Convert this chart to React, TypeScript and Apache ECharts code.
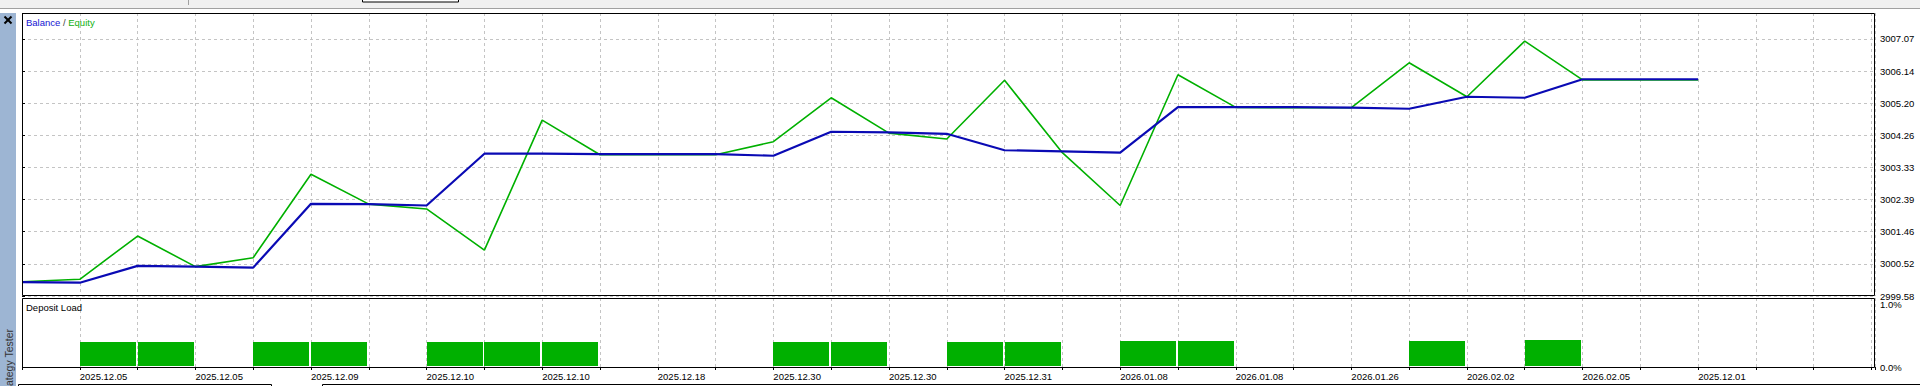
import React, { useEffect, useRef } from 'react';
import * as echarts from 'echarts';

// ---------- data ----------
const X_LABELS = [
  '2025.12.05', '2025.12.05', '2025.12.09', '2025.12.10', '2025.12.10',
  '2025.12.18', '2025.12.30', '2025.12.30', '2025.12.31', '2026.01.08',
  '2026.01.08', '2026.01.26', '2026.02.02', '2026.02.05', '2025.12.01',
];
const Y_TICKS = ['2999.58', '3000.52', '3001.46', '3002.39', '3003.33', '3004.26', '3005.20', '3006.14', '3007.07'];
const Y_BASE = 2999.583;
const Y_STEP = 0.93625;

const BALANCE = [
  2999.99, 2999.97, 3000.46, 3000.44, 3000.41, 3002.27, 3002.26, 3002.22, 3003.73, 3003.73,
  3003.72, 3003.72, 3003.72, 3003.67, 3004.37, 3004.35, 3004.31, 3003.83, 3003.80, 3003.76,
  3005.09, 3005.09, 3005.09, 3005.07, 3005.04, 3005.39, 3005.36, 3005.90, 3005.90, 3005.90,
];
const EQUITY = [
  3000.00, 3000.07, 3001.33, 3000.44, 3000.70, 3003.13, 3002.26, 3002.12, 3000.92, 3004.71,
  3003.70, 3003.70, 3003.70, 3004.08, 3005.36, 3004.33, 3004.16, 3005.87, 3003.76, 3002.22,
  3006.03, 3005.08, 3005.07, 3005.07, 3006.38, 3005.39, 3007.01, 3005.88, 3005.88, 3005.88,
];

const LOAD_INDEX = [1, 2, 4, 5, 7, 8, 9, 13, 14, 16, 17, 19, 20, 24, 26];
const LOAD_VALUES = [0.39, 0.39, 0.39, 0.39, 0.39, 0.39, 0.39, 0.39, 0.39, 0.39, 0.39, 0.405, 0.405, 0.42, 0.435];
const LOAD_TICKS = ['0.0%', '1.0%'];

// ---------- styling ----------
const FONT = 'Liberation Sans';
const FS = 9.5;
const BLUE = '#0a0ab4';
const GREEN = '#00b000';
const GRID_C = '#c4c4c4';
const XMAX = 32.06;
const YMAX = 8.809;
const LOAD_MAX = 69 / 63;

const norm = (v: number) => (v - Y_BASE) / Y_STEP;

export default function App() {
  const ref = useRef<HTMLDivElement>(null);

  useEffect(() => {
    if (!ref.current) return;
    const chart = echarts.init(ref.current, undefined, { renderer: 'svg' });

    const split = { show: true, lineStyle: { color: GRID_C, type: [3, 3] as any, width: 1 } };

    const option: any = {
      animation: false,
      backgroundColor: '#ffffff',
      grid: [
        { left: 22, top: 13, width: 1853, height: 283, show: false },
        { left: 22, top: 298, width: 1853, height: 69, show: false },
      ],
      xAxis: [
        {
          gridIndex: 0, type: 'value', min: 0, max: XMAX, interval: 1,
          axisLine: { show: false }, axisTick: { show: false }, axisLabel: { show: false },
          splitLine: split,
        },
        {
          gridIndex: 1, type: 'value', min: 0, max: XMAX, interval: 1, position: 'bottom',
          axisLine: { show: false },
          axisTick: { show: true, length: 3, lineStyle: { color: '#000', width: 1 } },
          axisLabel: {
            show: true, align: 'left', margin: 4, color: '#000', fontFamily: FONT, fontSize: FS,
            formatter: (v: number) => {
              const k = Math.round(v);
              if (Math.abs(v - k) > 1e-6 || k % 2 !== 1) return '';
              const i = (k - 1) / 2;
              return i < X_LABELS.length ? X_LABELS[i] : '';
            },
          },
          splitLine: split,
        },
      ],
      yAxis: [
        {
          gridIndex: 0, type: 'value', position: 'right', min: 0, max: YMAX, interval: 1,
          axisLine: { show: false },
          axisTick: { show: true, length: 3, lineStyle: { color: '#000', width: 1 } },
          axisLabel: {
            margin: 5, color: '#000', fontFamily: FONT, fontSize: FS,
            formatter: (v: number) => {
              const i = Math.round(v);
              return Math.abs(v - i) < 1e-6 && i >= 0 && i < Y_TICKS.length ? Y_TICKS[i] : '';
            },
          },
          splitLine: split,
        },
        {
          gridIndex: 1, type: 'value', position: 'right', min: 0, max: LOAD_MAX, interval: 1,
          axisLine: { show: false }, axisTick: { show: false }, splitLine: { show: false },
          axisLabel: {
            margin: 5, color: '#000', fontFamily: FONT, fontSize: FS,
            formatter: (v: number) => {
              const i = Math.round(v);
              return Math.abs(v - i) < 1e-6 && i >= 0 && i < LOAD_TICKS.length ? LOAD_TICKS[i] : '';
            },
          },
        },
      ],
      series: [
        {
          type: 'line', name: 'Equity', xAxisIndex: 0, yAxisIndex: 0, showSymbol: false, z: 3,
          lineStyle: { color: GREEN, width: 1.6 },
          data: EQUITY.map((v, k) => [k, norm(v)]),
        },
        {
          type: 'line', name: 'Balance', xAxisIndex: 0, yAxisIndex: 0, showSymbol: false, z: 4,
          lineStyle: { color: BLUE, width: 2.2 },
          data: BALANCE.map((v, k) => [k, norm(v)]),
        },
        {
          type: 'custom', name: 'Deposit Load', xAxisIndex: 1, yAxisIndex: 1,
          data: LOAD_INDEX.map((k, i) => [k, LOAD_VALUES[i]]),
          renderItem: (params: any, api: any) => {
            const k = api.value(0);
            const v = api.value(1);
            const p0 = api.coord([k, v]);
            const p1 = api.coord([k + 1, 0]);
            return {
              type: 'rect',
              shape: { x: Math.round(p0[0]), y: Math.round(p0[1]), width: Math.round(p1[0] - p0[0]) - 2, height: Math.round(p1[1] - p0[1]) - 1 },
              style: { fill: GREEN },
            };
          },
        },
      ],
      graphic: [
        { type: 'rect', shape: { x: 0, y: 0, width: 1920, height: 8 }, style: { fill: '#f0f0f0' }, z: 50 },
        { type: 'line', shape: { x1: 0, y1: 8.5, x2: 1920, y2: 8.5 }, style: { stroke: '#a0a0a0', lineWidth: 1 }, z: 51 },
        { type: 'line', shape: { x1: 188.5, y1: 0, x2: 188.5, y2: 5 }, style: { stroke: '#a0a0a0', lineWidth: 1 }, z: 51 },
        { type: 'rect', shape: { x: 362.5, y: -5, width: 96, height: 7 }, style: { fill: '#ffffff', stroke: '#000', lineWidth: 1 }, z: 51 },
        { type: 'rect', shape: { x: 0, y: 13, width: 16, height: 373 }, style: { fill: '#9db5d3' }, z: 50 },
        { type: 'line', shape: { x1: 4.5, y1: 16.5, x2: 11.5, y2: 23.5 }, style: { stroke: '#000', lineWidth: 2 }, z: 52 },
        { type: 'line', shape: { x1: 11.5, y1: 16.5, x2: 4.5, y2: 23.5 }, style: { stroke: '#000', lineWidth: 2 }, z: 52 },
        {
          type: 'text', x: 9, y: 329, rotation: Math.PI / 2, z: 52,
          style: { text: 'Strategy Tester', fill: '#333333', font: `10.5px "${FONT}"`, align: 'right', verticalAlign: 'middle' },
        },
        { type: 'rect', shape: { x: 18.5, y: 384.5, width: 253, height: 10 }, style: { fill: '#ffffff', stroke: '#000', lineWidth: 1 }, z: 51 },
        { type: 'rect', shape: { x: 322.5, y: 384.5, width: 1700, height: 10 }, style: { fill: '#ffffff', stroke: '#000', lineWidth: 1 }, z: 51 },
        // panel frames
        { type: 'rect', shape: { x: 22.5, y: 13.5, width: 1852, height: 282 }, style: { fill: 'none', stroke: '#000', lineWidth: 1 }, z: 60 },
        { type: 'rect', shape: { x: 22.5, y: 298.5, width: 1852, height: 69 }, style: { fill: 'none', stroke: '#000', lineWidth: 1 }, z: 60 },
        {
          type: 'text', x: 26, y: 22, z: 61,
          style: {
            text: '{b|Balance} {s|/} {e|Equity}',
            font: `${FS}px "${FONT}"`, verticalAlign: 'middle', align: 'left',
            rich: {
              b: { fill: '#1414d2', font: `${FS}px "${FONT}"` },
              s: { fill: '#404040', font: `${FS}px "${FONT}"` },
              e: { fill: '#10b010', font: `${FS}px "${FONT}"` },
            },
          },
        },
        {
          type: 'text', x: 26, y: 307, z: 61,
          style: { text: 'Deposit Load', fill: '#000', font: `${FS}px "${FONT}"`, verticalAlign: 'middle', align: 'left' },
        },
      ],
    };

    chart.setOption(option);
    return () => chart.dispose();
  }, []);

  return (
    <div
      ref={ref}
      style={{ position: 'fixed', left: 0, top: 0, width: 1920, height: 386, background: '#fff' }}
    />
  );
}
